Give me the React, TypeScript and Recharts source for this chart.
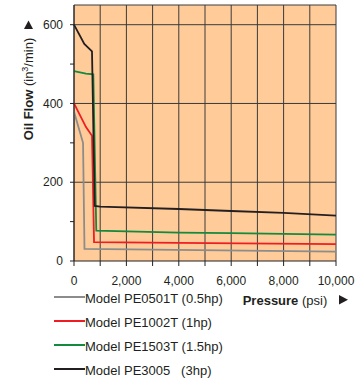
import { LineChart, Line, XAxis, YAxis, CartesianGrid, ReferenceLine } from 'recharts'

// pressure (psi) / oil flow (in3/min)
const pe0501Pressure = [0, 345, 400, 10000]
const pe0501Flow = [379, 300, 31, 24]

const pe1002Pressure = [0, 458, 687, 765, 4000, 10000]
const pe1002Flow = [400, 340, 318, 48, 46, 43]

const pe1503Pressure = [0, 458, 737, 850, 4000, 6000, 10000]
const pe1503Flow = [482, 476, 474, 77, 72, 71, 67]

const pe3005Pressure = [0, 393, 687, 790, 1000, 4000, 6000, 8000, 10000]
const pe3005Flow = [600, 551, 532, 140, 138, 132, 127, 122, 115]

const xTicks = [0, 1000, 2000, 3000, 4000, 5000, 6000, 7000, 8000, 9000, 10000]
const yTicks = [0, 100, 200, 300, 400, 500, 600]
const yGrid = [200, 400, 600]

const seriesNames = ['Model PE0501T (0.5hp)', 'Model PE1002T (1hp)', 'Model PE1503T (1.5hp)', 'Model PE3005   (3hp)']
const seriesColors = ['#8c8c8c', '#f01c24', '#138a3e', '#231f20']

const toPoints = (p: number[], q: number[]) => p.map((x, i) => ({ p: x, q: q[i] }))

const series = [
  toPoints(pe0501Pressure, pe0501Flow),
  toPoints(pe1002Pressure, pe1002Flow),
  toPoints(pe1503Pressure, pe1503Flow),
  toPoints(pe3005Pressure, pe3005Flow),
]

const FONT = '"Liberation Sans", Arial, sans-serif'
const TEXT = '#231f20'

const fmtX = (v: number) => (v % 2000 === 0 ? v.toLocaleString('en-US') : '')
const fmtY = (v: number) => (v % 200 === 0 ? String(v) : '')

const YTitle = () => (
  <g fontFamily={FONT} fill={TEXT}>
    <polygon points="24,29 33,29 28.5,20.5" fill={TEXT} />
    <text x={32.5} y={89} textAnchor="middle" fontSize={13} transform="rotate(-90, 32.5, 89)">
      <tspan fontWeight="bold">Oil Flow</tspan>
      <tspan> (in</tspan>
      <tspan fontSize={9} dy={-5}>3</tspan>
      <tspan dy={5}>/min)</tspan>
    </text>
  </g>
)

const XTitle = () => (
  <g fontFamily={FONT} fill={TEXT}>
    <text x={242.7} y={304.5} fontSize={13}>
      <tspan fontWeight="bold">Pressure</tspan>
      <tspan> (psi)</tspan>
    </text>
    <polygon points="339,295 339,304.5 348,299.7" fill={TEXT} />
  </g>
)

export default function App() {
  return (
    <div style={{ position: 'absolute', left: 0, top: 0, width: 362, height: 386, background: '#fff', fontFamily: FONT }}>
      <LineChart width={362} height={386} margin={{ top: 5, right: 26, left: 0, bottom: 0 }}>
        <CartesianGrid fill="#ffcc99" stroke="#3a3a3a" horizontalValues={yGrid} verticalValues={xTicks} />
        <XAxis
          type="number"
          dataKey="p"
          domain={[0, 10000]}
          ticks={xTicks}
          tickFormatter={fmtX}
          height={125}
          tickSize={5}
          tickMargin={10}
          interval={0}
          axisLine={{ stroke: '#222' }}
          tickLine={{ stroke: '#222' }}
          tick={{ fill: TEXT, fontSize: 12, fontFamily: FONT }}
          label={{ content: () => <XTitle /> }}
        />
        <YAxis
          type="number"
          dataKey="q"
          domain={[0, 650]}
          ticks={yTicks}
          tickFormatter={fmtY}
          width={74}
          tickSize={4}
          tickMargin={7}
          interval={0}
          axisLine={{ stroke: '#222' }}
          tickLine={{ stroke: '#222' }}
          tick={{ fill: TEXT, fontSize: 12, fontFamily: FONT }}
          label={{ content: () => <YTitle /> }}
        />
        <ReferenceLine y={650} stroke="#3a3a3a" />
        {series.map((data, i) => (
          <Line
            key={seriesNames[i]}
            data={data}
            dataKey="q"
            name={seriesNames[i]}
            type="linear"
            stroke={seriesColors[i]}
            strokeWidth={1.8}
            dot={false}
            activeDot={false}
            isAnimationActive={false}
          />
        ))}
      </LineChart>
      {seriesNames.map((name, i) => (
        <div
          key={name}
          style={{
            position: 'absolute',
            left: 54,
            top: 291 + i * 23.85,
            height: 15,
            lineHeight: '15px',
            fontSize: 13,
            color: TEXT,
            whiteSpace: 'pre',
          }}
        >
          <span style={{ position: 'absolute', left: 0, top: 5, width: 31, height: 2, background: seriesColors[i] }} />
          <span style={{ marginLeft: 31 }}>{name}</span>
        </div>
      ))}
    </div>
  )
}
